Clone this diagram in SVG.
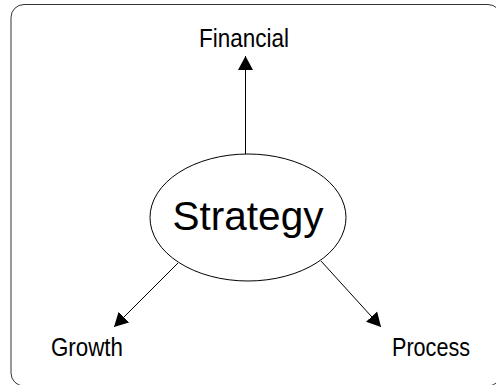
<svg xmlns="http://www.w3.org/2000/svg" width="496" height="385" viewBox="0 0 496 385">
<style>
.lbl{font-family:"Liberation Sans",Arial,sans-serif;fill:#000}
.edge{stroke:#000;stroke-width:1;fill:none}
</style>
<defs>
<marker id="arr" markerUnits="userSpaceOnUse" markerWidth="15" markerHeight="16" refX="14" refY="8" orient="auto">
<path d="M0,0.5 L14,8 L0,15.5 Z" fill="#000"/>
</marker>
</defs>
<rect x="11" y="4.5" width="490" height="381.5" rx="13" ry="13" fill="#fff" stroke="#333" stroke-width="1"/>
<g id="connectors">
<line class="edge" x1="245.5" y1="154" x2="245.5" y2="56" marker-end="url(#arr)"/>
<line class="edge" x1="178" y1="263" x2="114" y2="327" marker-end="url(#arr)"/>
<line class="edge" x1="321" y1="261" x2="381" y2="327" marker-end="url(#arr)"/>
</g>
<g id="strategy">
<ellipse cx="248" cy="217.5" rx="98" ry="63.5" fill="#fff" stroke="#000" stroke-width="1"/>
<text class="lbl" x="248" y="230" font-size="40.5" text-anchor="middle">Strategy</text>
</g>
<g id="financial">
<text class="lbl" x="199" y="47" font-size="26" textLength="90" lengthAdjust="spacingAndGlyphs">Financial</text>
</g>
<g id="growth">
<text class="lbl" x="51" y="356" font-size="26" textLength="72" lengthAdjust="spacingAndGlyphs">Growth</text>
</g>
<g id="process">
<text class="lbl" x="392" y="356" font-size="26" textLength="78" lengthAdjust="spacingAndGlyphs">Process</text>
</g>
</svg>
